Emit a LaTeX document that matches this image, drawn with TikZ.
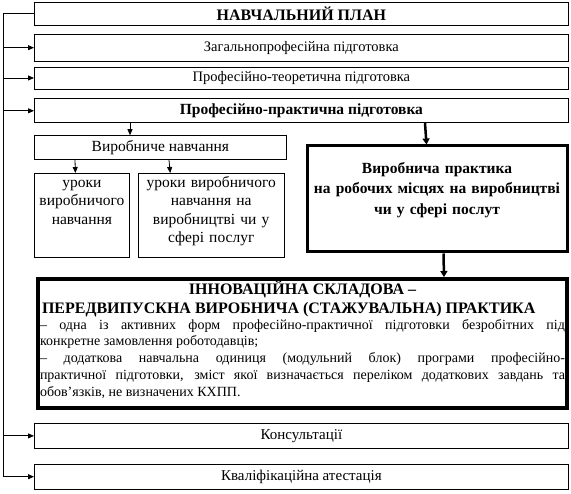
\documentclass[tikz,border=0pt]{standalone}
\usepackage{fontspec}
\setmainfont{Liberation Serif}
\usetikzlibrary{arrows.meta, positioning}
\tikzset{
  box/.style={rectangle, draw=black, line width=0.8pt, minimum width=534pt, inner sep=2pt, text centered, font=\fontsize{14.5}{16}\selectfont},
  lesson/.style={rectangle, draw=black, line width=0.8pt, inner sep=3pt, align=center, text height=11pt, text depth=67pt, font=\fontsize{15.5}{18.5}\selectfont},
  heavybox/.style={rectangle, draw=black, line width=3pt, inner sep=4pt},
  arrow/.style={line width=0.8pt, -{Triangle[length=6pt, width=5pt]}},
  heavyarrow/.style={line width=2.5pt, -{Triangle[length=6pt, width=7pt]}}
}

\begin{document}
\begin{tikzpicture}[x=1pt, y=-1pt]
\useasboundingbox (0,0) rectangle (571,494);
% PLAN - left stack
\node[box, minimum height=23pt, anchor=north west, font=\bfseries\fontsize{16}{18}\selectfont] (plan) at (34,2) {НАВЧАЛЬНИЙ ПЛАН};
\node[box, minimum height=27pt, below=8pt of plan.south west, anchor=north west] (gen) {Загальнопрофесійна підготовка};
\node[box, minimum height=22pt, below=5pt of gen.south west, anchor=north west] (teor) {Професійно-теоретична підготовка};
\node[box, minimum height=24pt, below=9pt of teor.south west, anchor=north west, font=\bfseries\fontsize{15.5}{18}\selectfont] (prakt) {Професійно-практична підготовка};

% VYROBNYCHE NAVCHANNIA
\node[box, minimum width=252pt, minimum height=24pt, below=12pt of prakt.south west, anchor=north west, font=\fontsize{15.5}{18}\selectfont] (vyrob) {Виробниче навчання};
\node[lesson, text width=89pt, below=13pt of vyrob.south west, anchor=north west] (uroky1) {уроки\\ виробничого\\ навчання};
\node[lesson, text width=140pt, right=8pt of uroky1.north east, anchor=north west] (uroky2) {уроки виробничого\\ навчання на\\ виробництві чи у\\ сфері послуг};

\draw[arrow] ([xshift=96pt]prakt.south west) -- ([xshift=96pt]vyrob.north west);
\draw[arrow] ([xshift=41pt]vyrob.south west) -- ([xshift=-6.5pt]uroky1.north);
\draw[arrow] ([xshift=135pt]vyrob.south west) -- ([xshift=-41pt]uroky2.north);

% PRAKTYKA - right column
\node[heavybox, text width=252pt, align=center, text height=23.5pt, text depth=74.5pt, font=\bfseries\fontsize{15.5}{20.5}\selectfont, anchor=north west] (praktyka) at (305.5,144.5) {Виробнича практика\\ на робочих місцях на виробництві\\ чи у сфері послут};
\draw[heavyarrow] ([xshift=391pt]prakt.south west) -- ([xshift=-10.5pt]praktyka.north);

% INNOVATION
\node[heavybox, line width=4pt, inner sep=2pt, text width=525pt, align=justify, text height=14pt, text depth=111pt, anchor=north west] (innov) at (36,277) {%
{\bfseries\fontsize{16}{19}\selectfont
\centering ІННОВАЦІЙНА СКЛАДОВА --\par
\raggedright\hspace*{2pt}ПЕРЕДВИПУСКНА ВИРОБНИЧА (СТАЖУВАЛЬНА) ПРАКТИКА\par}
\vspace{-1.5pt}
\fontsize{14}{16.75}\selectfont
\noindent -- одна із активних форм професійно-практичної підготовки безробітних під\linebreak
конкретне замовлення роботодавців;\par
\noindent -- додаткова навчальна одиниця (модульний блок) програми професійно-\linebreak
практичної підготовки, зміст якої визначається переліком додаткових завдань та\linebreak
обов’язків, не визначених КХПП.\par};
\draw[heavyarrow] ([xshift=6.5pt]praktyka.south) -- ([xshift=141.5pt]innov.north);

% KONSULTATSII, ATESTATSIIA
\node[box, minimum height=25pt, anchor=north west, font=\fontsize{15}{17}\selectfont] (kons) at (34,423) {Консультації};
\node[box, minimum height=25pt, below=15pt of kons.south west, anchor=north west, font=\fontsize{15}{17}\selectfont] (kval) {Кваліфікаційна атестація};

% Left trunk
\coordinate (trunk) at (3,0);
\draw[line width=0.8pt] (plan.west) -- (plan.west -| trunk) -- (kval.west -| trunk);
\draw[arrow] (gen.west -| trunk) -- (gen.west);
\draw[arrow] (teor.west -| trunk) -- (teor.west);
\draw[arrow] (prakt.west -| trunk) -- (prakt.west);
\draw[arrow] (kons.west -| trunk) -- (kons.west);
\draw[arrow] (kval.west -| trunk) -- (kval.west);
\end{tikzpicture}
\end{document}
